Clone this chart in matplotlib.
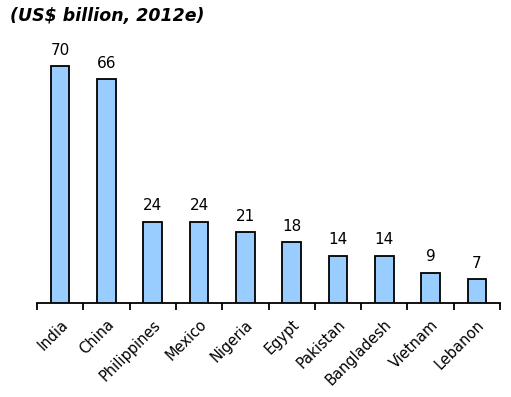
import matplotlib
matplotlib.use("Agg")
import matplotlib.pyplot as plt
import numpy as np

countries = ["India", "China", "Philippines", "Mexico", "Nigeria", "Egypt",
             "Pakistan", "Bangladesh", "Vietnam", "Lebanon"]
values = [70, 66, 24, 24, 21, 18, 14, 14, 9, 7]
title = "(US$ billion, 2012e)"

plt.rcParams['font.family'] = ['DejaVu Sans']
fig = plt.figure(figsize=(5.11, 3.97), dpi=100)
ax = fig.add_axes([37/511, 94/397, 463/511, 271/397])

x = np.arange(len(countries))
ax.bar(x, values, width=0.4, color="#99CCFF", edgecolor="black", linewidth=1.3, zorder=3)
for xi, v in zip(x, values):
    ax.annotate(str(v), (xi, v), xytext=(0, 6), textcoords="offset points",
                ha="center", va="bottom", fontsize=11)

ax.set_xlim(-0.5, len(countries) - 0.5)
ax.set_ylim(0, 80)
for s in ["top", "right", "left"]:
    ax.spines[s].set_visible(False)
ax.spines["bottom"].set_linewidth(1.3)
ax.set_yticks([])
ax.set_xticks(x)
ax.set_xticklabels(countries, rotation=45, ha="right", rotation_mode="anchor", fontsize=10.5)
ax.tick_params(axis="x", which="major", length=0, pad=10)
ax.set_xticks(np.arange(len(countries) + 1) - 0.5, minor=True)
ax.tick_params(axis="x", which="minor", length=5, width=1.3, direction="out")

fig.text(10/511, 1 - 16/397, title, fontsize=12.5, fontweight="bold", style="italic",
         ha="left", va="center")

fig.savefig("out.png", dpi=100)
